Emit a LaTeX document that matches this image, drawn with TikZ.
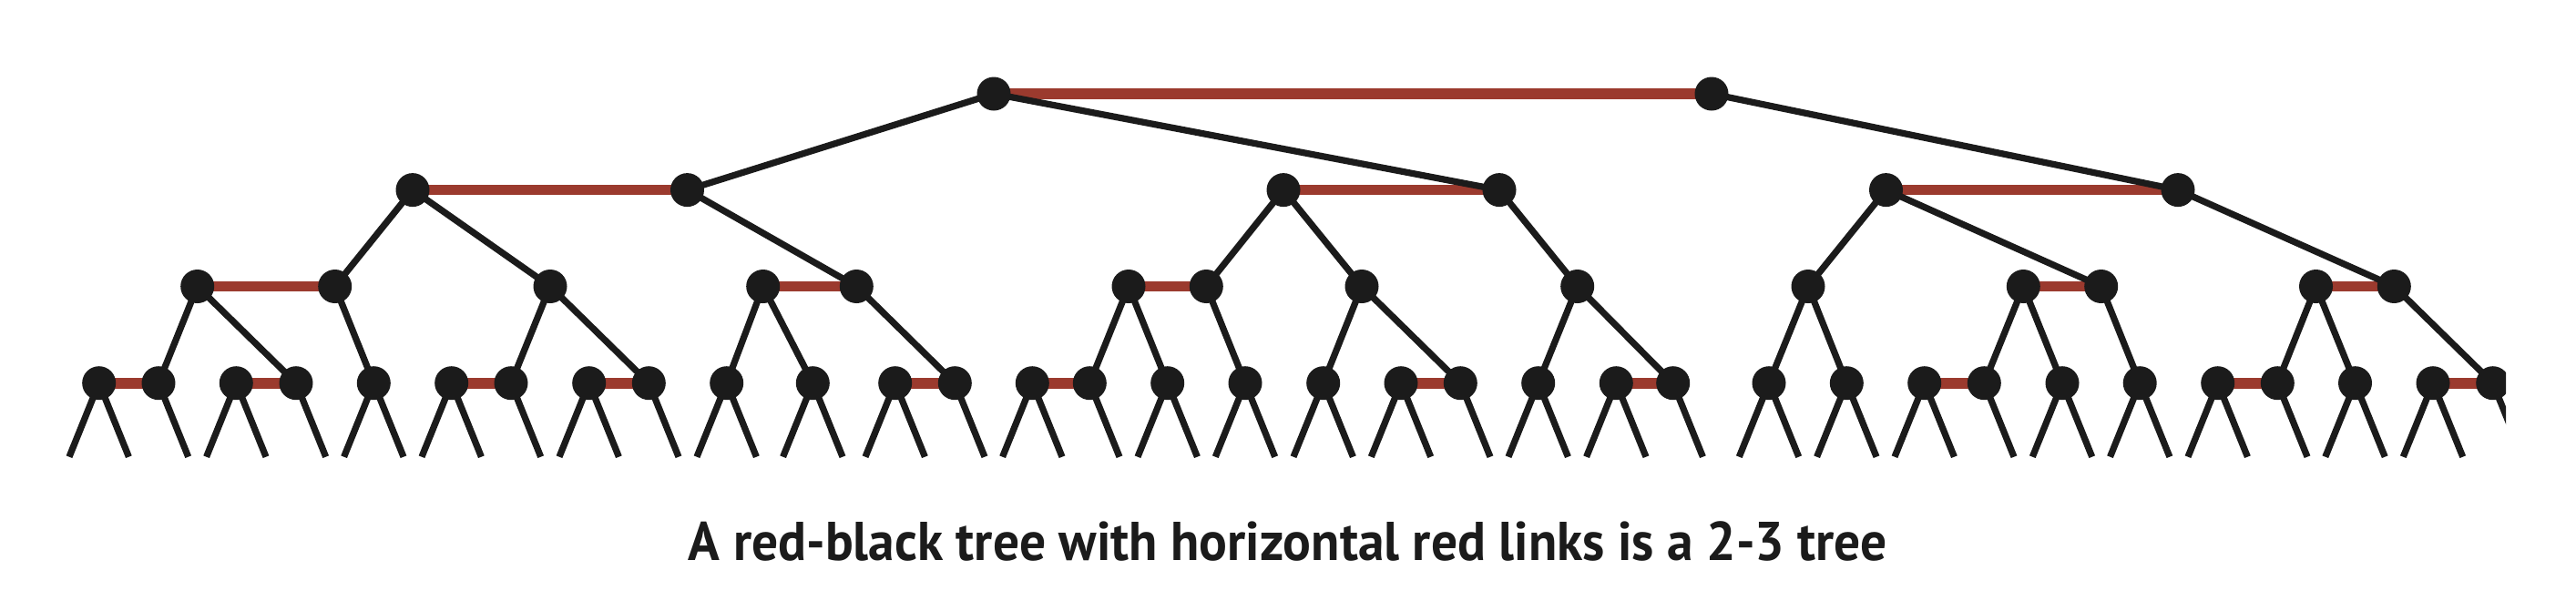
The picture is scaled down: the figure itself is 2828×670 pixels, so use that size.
\documentclass[tikz,border=0pt]{standalone}
\usepackage{fontspec}
\newfontfamily\capfont{PT Sans}
\definecolor{nodeblack}{RGB}{27,27,27}
\definecolor{linkred}{RGB}{155,58,46}
\pgfdeclarelayer{redlayer}
\pgfdeclarelayer{blacklayer}
\pgfsetlayers{redlayer,blacklayer,main}
\begin{document}
\begin{tikzpicture}[x=0.5pt,y=-0.5pt,
  tnode/.style={circle,fill=nodeblack,inner sep=0pt,minimum size=18.5pt},
  blink/.style={draw=nodeblack,line width=3.6pt},
  rlink/.style={draw=linkred,line width=5.8pt}]
\useasboundingbox (0,0) rectangle (2828,670);
\begin{scope}
\clip (0,0) rectangle (2751,670);
% level 0
\node[tnode] (r1) at (1091,103) {};
\node[tnode] (r2) at (1879,103) {};
% level 1
\foreach \n/\x in {a/453, b/754.5, c/1409, d/1646, e/2070.5, f/2391}
  \node[tnode] (p\n) at (\x,208.6) {};
% level 2
\foreach \i/\x in {1/216.7, 2/367.7, 3/604, 4/837.7, 5/940.3, 6/1239, 7/1324.3,
  8/1495, 9/1731.7, 10/1985, 11/2221.3, 12/2306.7, 13/2542.5, 14/2628.3}
  \node[tnode] (q\i) at (\x,314.5) {};
% level 3 with leaf ends
\foreach \i/\x in {1/108.7, 2/174, 3/259.3, 4/325, 5/410.3, 6/495.7, 7/561,
  8/646.7, 9/712.3, 10/797.7, 11/892.3, 12/982.7, 13/1048.3, 14/1133.3,
  15/1196.3, 16/1281.7, 17/1367, 18/1452.7, 19/1538, 20/1603.3, 21/1688.7,
  22/1774.3, 23/1836.7, 24/1942, 25/2027.3, 26/2112.7, 27/2178.3, 28/2264,
  29/2349.2, 30/2434.7, 31/2500.3, 32/2585.5, 33/2671, 34/2736.7}{
  \node[tnode] (c\i) at (\x,420.7) {};
  \coordinate (c\i l) at (\x-32.7,501.7);
  \coordinate (c\i r) at (\x+32.7,501.7);
}
\end{scope}
% red links
\begin{pgfonlayer}{redlayer}
\begin{scope}
\clip (0,0) rectangle (2751,670);
\foreach \u/\v in {r1/r2, pa/pb, pc/pd, pe/pf, q1/q2, q4/q5, q6/q7, q11/q12,
  q13/q14, c1/c2, c3/c4, c6/c7, c8/c9, c12/c13, c14/c15, c19/c20, c22/c23,
  c26/c27, c30/c31, c33/c34}
  \draw[rlink] (\u.center) -- (\v.center);
\end{scope}
\end{pgfonlayer}
% black links
\begin{pgfonlayer}{blacklayer}
\begin{scope}
\clip (0,0) rectangle (2751,670);
\foreach \u/\v in {r1/pb, r1/pd, r2/pf, pa/q2, pa/q3, pb/q5, pc/q7, pc/q8,
  pd/q9, pe/q10, pe/q12, pf/q14, q1/c2, q1/c4, q2/c5, q3/c7, q3/c9, q4/c10,
  q4/c11, q5/c13, q6/c15, q6/c16, q7/c17, q8/c18, q8/c20, q9/c21, q9/c23,
  q10/c24, q10/c25, q11/c27, q11/c28, q12/c29, q13/c31, q13/c32, q14/c34}
  \draw[blink] (\u.center) -- (\v.center);
% leaf stubs: t=0 two leaves, t=1 right leaf only
\foreach \i/\t in {1/0, 2/1, 3/0, 4/1, 5/0, 6/0, 7/1, 8/0, 9/1, 10/0, 11/0,
  12/0, 13/1, 14/0, 15/1, 16/0, 17/0, 18/0, 19/0, 20/1, 21/0, 22/0, 23/1,
  24/0, 25/0, 26/0, 27/1, 28/0, 29/0, 30/0, 31/1, 32/0, 33/0, 34/1}{
  \ifnum\t=0 \draw[blink] (c\i.center) -- (c\i l);\fi
  \draw[blink] (c\i.center) -- (c\i r);
}
\end{scope}
\end{pgfonlayer}
% caption
\node[anchor=base,inner sep=0pt,text=nodeblack] (cap) at (1414,615)
  {\resizebox{658pt}{\height}{\capfont\bfseries\fontsize{30pt}{36pt}\selectfont A red-black tree with horizontal red links is a 2-3 tree}};
\end{tikzpicture}
\end{document}
